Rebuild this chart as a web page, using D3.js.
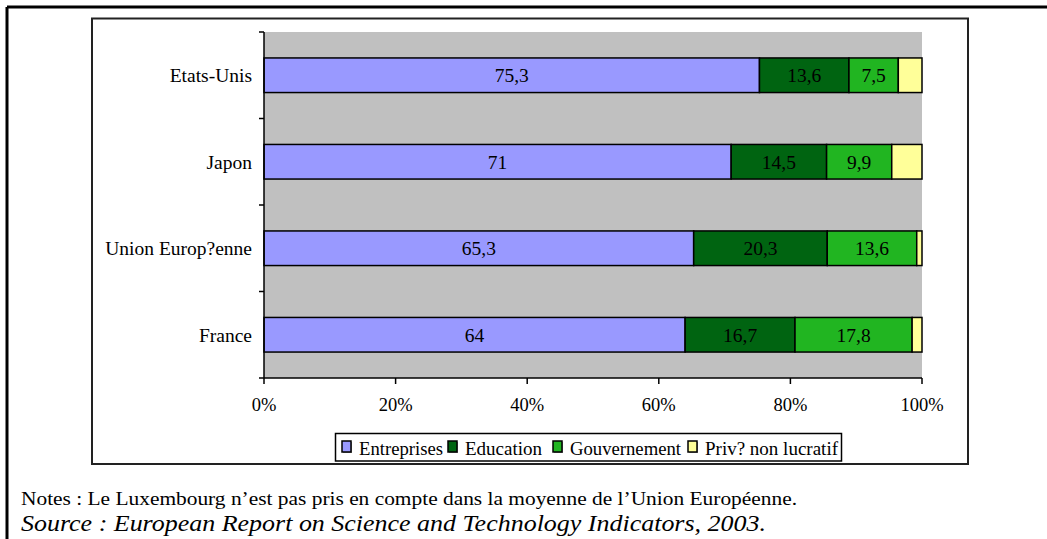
<!DOCTYPE html>
<html><head><meta charset="utf-8">
<script src="https://cdn.jsdelivr.net/npm/d3@7"></script>
<style>body{margin:0;background:#fff}svg{display:block}</style>
</head><body>
<svg id="c" width="1047" height="539" font-family="'Liberation Serif', Tinos, 'Times New Roman', Times, 'DejaVu Serif', serif"></svg>
<script>
const categories = ["Etats-Unis","Japon","Union Europ?enne","France"];
const seriesNames = ["Entreprises","Education","Gouvernement","Priv? non lucratif"];
const entreprises = [75.3, 71, 65.3, 64];
const education = [13.6, 14.5, 20.3, 16.7];
const gouvernement = [7.5, 9.9, 13.6, 17.8];
const prive = [3.6, 4.6, 0.8, 1.5];
const labels = [["75,3","13,6","7,5",""],["71","14,5","9,9",""],["65,3","20,3","13,6",""],["64","16,7","17,8",""]];
const xTicks = [0, 0.2, 0.4, 0.6, 0.8, 1];
const colors = ["#9999FF","#006411","#21B521","#FFFF99"];
const noteText = "Notes : Le Luxembourg n\u2019est pas pris en compte dans la moyenne de l\u2019Union Europ\u00e9enne.";
const sourceText = "Source : European Report on Science and Technology Indicators, 2003.";

const svg = d3.select("#c");
svg.append("line").attr("x1",7).attr("x2",1047).attr("y1",7).attr("y2",7).attr("stroke","#000").attr("stroke-width",3);
svg.append("line").attr("x1",7).attr("x2",7).attr("y1",7).attr("y2",539).attr("stroke","#000").attr("stroke-width",3);
svg.append("rect").attr("x",92).attr("y",18.5).attr("width",876).attr("height",445.5).attr("fill","#fff").attr("stroke","#222").attr("stroke-width",2);

const x = d3.scaleLinear().domain([0,1]).range([264,922]);
const y = d3.scaleBand().domain(categories).range([32,378]).paddingInner(0.6).paddingOuter(0.3);
const yOuter = d3.scaleBand().domain(categories).range([32,378]);

svg.append("rect").attr("x",x(0)).attr("y",32).attr("width",x(1)-x(0)).attr("height",346).attr("fill","#C0C0C0");

const rows = categories.map((c,i)=>{
  const vals=[entreprises[i],education[i],gouvernement[i],prive[i]];
  const tot=d3.sum(vals); let acc=0;
  return vals.map((v,k)=>{const s={cat:c,k,x0:acc/tot,x1:(acc+v)/tot,label:labels[i][k]};acc+=v;return s;});
}).flat();

const g = svg.append("g");
g.selectAll("rect.seg").data(rows).join("rect").attr("class","seg")
  .attr("x",d=>x(d.x0)).attr("y",d=>y(d.cat)).attr("width",d=>x(d.x1)-x(d.x0)).attr("height",y.bandwidth())
  .attr("fill",d=>colors[d.k]).attr("stroke","#000").attr("stroke-width",1.5);
g.selectAll("text.lab").data(rows.filter(d=>d.label)).join("text").attr("class","lab")
  .attr("x",d=>(x(d.x0)+x(d.x1))/2).attr("y",d=>y(d.cat)+y.bandwidth()/2).attr("dy","0.36em")
  .attr("text-anchor","middle").attr("font-size",19.5).text(d=>d.label);

const yAxisG = svg.append("g");
yAxisG.append("line").attr("x1",264).attr("x2",264).attr("y1",32).attr("y2",378).attr("stroke","#000").attr("stroke-width",1.5);
const yTickPos = categories.map(c=>yOuter(c)).concat([378]);
yAxisG.selectAll("line.t").data(yTickPos).join("line").attr("class","t").attr("x1",259).attr("x2",264).attr("y1",d=>d).attr("y2",d=>d).attr("stroke","#000").attr("stroke-width",1.5);
yAxisG.selectAll("text").data(categories).join("text").attr("x",252).attr("y",d=>y(d)+y.bandwidth()/2).attr("dy","0.36em")
  .attr("text-anchor","end").attr("font-size",19.5).text(d=>d);

const xAxisG = svg.append("g");
xAxisG.append("line").attr("x1",264).attr("x2",922).attr("y1",378).attr("y2",378).attr("stroke","#000").attr("stroke-width",1.5);
xAxisG.selectAll("line.t").data(xTicks).join("line").attr("class","t").attr("x1",d=>x(d)).attr("x2",d=>x(d)).attr("y1",378).attr("y2",384).attr("stroke","#000").attr("stroke-width",1.5);
xAxisG.selectAll("text").data(xTicks).join("text").attr("x",d=>x(d)).attr("y",411).attr("text-anchor","middle").attr("font-size",18.5).text(d3.format(".0%"));

const lg = svg.append("g");
lg.append("rect").attr("x",335.5).attr("y",433.5).attr("width",506).attr("height",27.5).attr("fill","#fff").attr("stroke","#000").attr("stroke-width",1.5);
const legX = [342,448,553,688];
const legW = [84, 77, 111, 133];
seriesNames.forEach((n,k)=>{
  lg.append("rect").attr("x",legX[k]+1).attr("y",442).attr("width",9).attr("height",11).attr("fill","#999");
  lg.append("rect").attr("x",legX[k]).attr("y",441).attr("width",9).attr("height",11).attr("fill",colors[k]).attr("stroke","#000").attr("stroke-width",1.5);
  lg.append("text").attr("x",legX[k]+17).attr("y",455).attr("font-size",19).attr("textLength",legW[k]).attr("lengthAdjust","spacingAndGlyphs").text(n);
});

svg.append("text").attr("x",21).attr("y",505).attr("font-size",19).attr("textLength",776).attr("lengthAdjust","spacingAndGlyphs").text(noteText);
svg.append("text").attr("x",21).attr("y",531).attr("font-size",23).attr("font-style","italic").attr("textLength",745).attr("lengthAdjust","spacingAndGlyphs").text(sourceText);
</script>
</body></html>
